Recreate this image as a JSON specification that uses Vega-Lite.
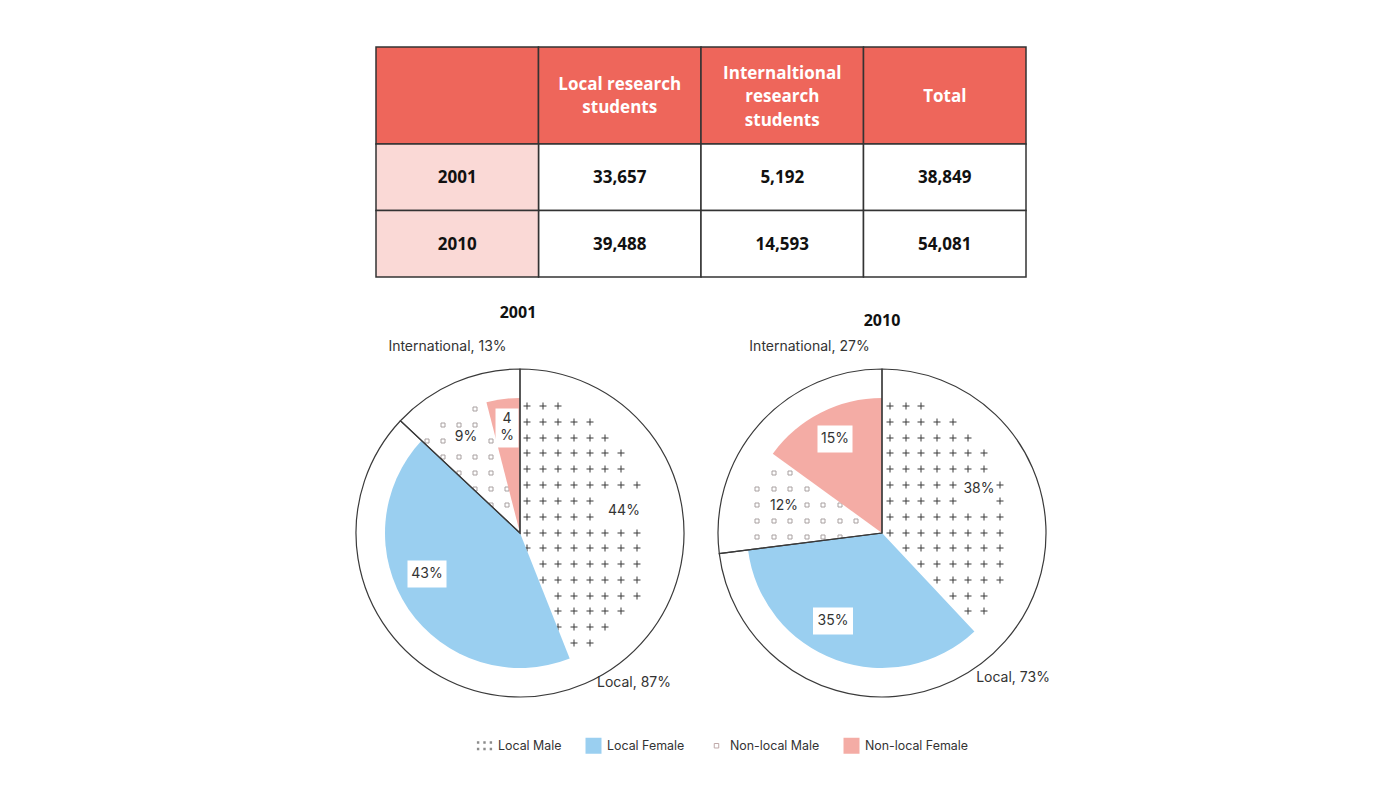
{
  "$schema": "https://vega.github.io/schema/vega-lite/v6.json",
  "background": "white",
  "padding": {"left": 339, "top": 46, "right": 10, "bottom": 10},
  "autosize": {"type": "pad"},
  "config": {"view": {"stroke": null}, "font": "Inter"},
  "datasets": {
    "header": [
      {"col": "year", "label": ""},
      {"col": "local", "label": "Local research\nstudents"},
      {"col": "intl", "label": "Internaltional\nresearch\nstudents"},
      {"col": "total", "label": "Total"}
    ],
    "body": [
      {"year": "2001", "col": "local", "n": 33657},
      {"year": "2001", "col": "intl", "n": 5192},
      {"year": "2001", "col": "total", "n": 38849},
      {"year": "2010", "col": "local", "n": 39488},
      {"year": "2010", "col": "intl", "n": 14593},
      {"year": "2010", "col": "total", "n": 54081}
    ],
    "inner": [
      {"year": "2001", "category": "Local Male", "share": 44, "k": 1, "label": "44%"},
      {"year": "2001", "category": "Local Female", "share": 43, "k": 2, "label": "43%"},
      {"year": "2001", "category": "Non-local Male", "share": 9, "k": 3, "label": "9%"},
      {"year": "2001", "category": "Non-local Female", "share": 4, "k": 4, "label": "4\n%"},
      {"year": "2010", "category": "Local Male", "share": 38, "k": 1, "label": "38%"},
      {"year": "2010", "category": "Local Female", "share": 35, "k": 2, "label": "35%"},
      {"year": "2010", "category": "Non-local Male", "share": 12, "k": 3, "label": "12%"},
      {"year": "2010", "category": "Non-local Female", "share": 15, "k": 4, "label": "15%"}
    ],
    "outer": [
      {"year": "2001", "group": "Local", "share": 87, "k": 1, "label": "Local, 87%"},
      {"year": "2001", "group": "International", "share": 13, "k": 2, "label": "International, 13%"},
      {"year": "2010", "group": "Local", "share": 73, "k": 1, "label": "Local, 73%"},
      {"year": "2010", "group": "International", "share": 27, "k": 2, "label": "International, 27%"}
    ]
  },
  "spacing": 0,
  "center": true,
  "bounds": "flush",
  "resolve": {"scale": {"color": "independent"}, "legend": {"color": "independent"}},
  "vconcat": [
    {
      "width": 650,
      "height": 97,
      "data": {"name": "header"},
      "layer": [
        {
          "mark": {"type": "rect", "fill": "#EE665B", "stroke": "#333333", "strokeWidth": 1.5},
          "encoding": {"x": {"field": "col", "type": "nominal", "scale": {"domain": ["year", "local", "intl", "total"], "paddingInner": 0, "paddingOuter": 0}, "axis": null}}
        },
        {
          "transform": [{"filter": "datum.col == 'local'"}],
          "mark": {"type": "text", "font": "Open Sans", "fontWeight": "bold", "fontSize": 17, "color": "#ffffff", "lineBreak": "\n", "lineHeight": 23.5, "baseline": "middle", "dy": -11},
          "encoding": {
            "x": {"field": "col", "type": "nominal", "scale": {"domain": ["year", "local", "intl", "total"], "paddingInner": 0, "paddingOuter": 0}, "axis": null},
            "text": {"field": "label"}
          }
        },
        {
          "transform": [{"filter": "datum.col == 'intl'"}],
          "mark": {"type": "text", "font": "Open Sans", "fontWeight": "bold", "fontSize": 17, "color": "#ffffff", "lineBreak": "\n", "lineHeight": 23.5, "baseline": "middle", "dy": -22},
          "encoding": {
            "x": {"field": "col", "type": "nominal", "scale": {"domain": ["year", "local", "intl", "total"], "paddingInner": 0, "paddingOuter": 0}, "axis": null},
            "text": {"field": "label"}
          }
        },
        {
          "transform": [{"filter": "datum.col == 'total'"}],
          "mark": {"type": "text", "font": "Open Sans", "fontWeight": "bold", "fontSize": 17, "color": "#ffffff", "baseline": "middle", "dy": 1},
          "encoding": {
            "x": {"field": "col", "type": "nominal", "scale": {"domain": ["year", "local", "intl", "total"], "paddingInner": 0, "paddingOuter": 0}, "axis": null},
            "text": {"field": "label"}
          }
        }
      ]
    },
    {
      "width": 650,
      "height": 219,
      "data": {"name": "body"},
      "layer": [
        {
          "mark": {"type": "rect", "fill": "#ffffff", "stroke": "#333333", "strokeWidth": 1.5},
          "encoding": {
            "x": {"field": "col", "type": "nominal", "scale": {"domain": ["year", "local", "intl", "total"], "paddingInner": 0, "paddingOuter": 0}, "axis": null},
            "y": {"field": "year", "type": "nominal", "scale": {"domain": ["2001", "2010"], "range": [0, 133], "paddingInner": 0, "paddingOuter": 0}, "axis": null}
          }
        },
        {
          "transform": [{"filter": "datum.col == 'total'"}],
          "mark": {"type": "rect", "fill": "#FAD9D6", "stroke": "#333333", "strokeWidth": 1.5},
          "encoding": {
            "x": {"datum": "year", "type": "nominal", "scale": {"domain": ["year", "local", "intl", "total"], "paddingInner": 0, "paddingOuter": 0}, "axis": null},
            "y": {"field": "year", "type": "nominal", "scale": {"domain": ["2001", "2010"], "range": [0, 133], "paddingInner": 0, "paddingOuter": 0}, "axis": null}
          }
        },
        {
          "mark": {"type": "text", "font": "Open Sans", "fontWeight": "bold", "fontSize": 17, "color": "#111111", "baseline": "middle", "dy": 1},
          "encoding": {
            "x": {"field": "col", "type": "nominal", "scale": {"domain": ["year", "local", "intl", "total"], "paddingInner": 0, "paddingOuter": 0}, "axis": null},
            "y": {"field": "year", "type": "nominal", "scale": {"domain": ["2001", "2010"], "range": [0, 133], "paddingInner": 0, "paddingOuter": 0}, "axis": null},
            "text": {"field": "n", "type": "quantitative", "format": ","}
          }
        },
        {
          "transform": [{"filter": "datum.col == 'total'"}],
          "mark": {"type": "text", "font": "Open Sans", "fontWeight": "bold", "fontSize": 17, "color": "#111111", "baseline": "middle", "dy": 1},
          "encoding": {
            "x": {"datum": "year", "type": "nominal", "scale": {"domain": ["year", "local", "intl", "total"], "paddingInner": 0, "paddingOuter": 0}, "axis": null},
            "y": {"field": "year", "type": "nominal", "scale": {"domain": ["2001", "2010"], "range": [0, 133], "paddingInner": 0, "paddingOuter": 0}, "axis": null},
            "text": {"field": "year"}
          }
        }
      ]
    },
    {
      "width": 724,
      "height": 340,
      "layer": [
        {
          "data": {"name": "outer"},
          "transform": [{"stack": "share", "groupby": ["year"], "sort": [{"field": "k", "order": "ascending"}], "as": ["t0", "t1"]}],
          "mark": {"type": "arc", "radius": 164, "fill": "#ffffff", "strokeWidth": 0},
          "encoding": {
            "x": {"field": "year", "type": "nominal", "scale": {"type": "point", "padding": 0.5, "domain": ["2001", "2010"]}, "axis": null},
            "theta": {"field": "t0", "type": "quantitative", "scale": {"domain": [0, 100]}},
            "theta2": {"field": "t1"}
          }
        },
        {
          "data": {"name": "inner"},
          "transform": [{"filter": "datum.year == '2001' && datum.k == 1"}],
          "mark": {"type": "point", "size": 4, "filled": false, "opacity": 1, "stroke": "#3a3a3a", "strokeWidth": 1,
            "shape": "M3.5,-127h7m-3.5,-3.5v7M19.5,-127h7m-3.5,-3.5v7M34.5,-127h7m-3.5,-3.5v7M3.5,-111h7m-3.5,-3.5v7M19.5,-111h7m-3.5,-3.5v7M34.5,-111h7m-3.5,-3.5v7M50.5,-111h7m-3.5,-3.5v7M66.5,-111h7m-3.5,-3.5v7M3.5,-95h7m-3.5,-3.5v7M19.5,-95h7m-3.5,-3.5v7M34.5,-95h7m-3.5,-3.5v7M50.5,-95h7m-3.5,-3.5v7M66.5,-95h7m-3.5,-3.5v7M81.5,-95h7m-3.5,-3.5v7M3.5,-80h7m-3.5,-3.5v7M19.5,-80h7m-3.5,-3.5v7M34.5,-80h7m-3.5,-3.5v7M50.5,-80h7m-3.5,-3.5v7M66.5,-80h7m-3.5,-3.5v7M81.5,-80h7m-3.5,-3.5v7M97.5,-80h7m-3.5,-3.5v7M3.5,-64h7m-3.5,-3.5v7M19.5,-64h7m-3.5,-3.5v7M34.5,-64h7m-3.5,-3.5v7M50.5,-64h7m-3.5,-3.5v7M66.5,-64h7m-3.5,-3.5v7M81.5,-64h7m-3.5,-3.5v7M97.5,-64h7m-3.5,-3.5v7M3.5,-48h7m-3.5,-3.5v7M19.5,-48h7m-3.5,-3.5v7M34.5,-48h7m-3.5,-3.5v7M50.5,-48h7m-3.5,-3.5v7M66.5,-48h7m-3.5,-3.5v7M81.5,-48h7m-3.5,-3.5v7M97.5,-48h7m-3.5,-3.5v7M113.5,-48h7m-3.5,-3.5v7M3.5,-32h7m-3.5,-3.5v7M19.5,-32h7m-3.5,-3.5v7M34.5,-32h7m-3.5,-3.5v7M50.5,-32h7m-3.5,-3.5v7M66.5,-32h7m-3.5,-3.5v7M3.5,-16h7m-3.5,-3.5v7M19.5,-16h7m-3.5,-3.5v7M34.5,-16h7m-3.5,-3.5v7M50.5,-16h7m-3.5,-3.5v7M66.5,-16h7m-3.5,-3.5v7M3.5,0h7m-3.5,-3.5v7M19.5,0h7m-3.5,-3.5v7M34.5,0h7m-3.5,-3.5v7M50.5,0h7m-3.5,-3.5v7M66.5,0h7m-3.5,-3.5v7M81.5,0h7m-3.5,-3.5v7M97.5,0h7m-3.5,-3.5v7M113.5,0h7m-3.5,-3.5v7M3.5,15h7m-3.5,-3.5v7M19.5,15h7m-3.5,-3.5v7M34.5,15h7m-3.5,-3.5v7M50.5,15h7m-3.5,-3.5v7M66.5,15h7m-3.5,-3.5v7M81.5,15h7m-3.5,-3.5v7M97.5,15h7m-3.5,-3.5v7M113.5,15h7m-3.5,-3.5v7M19.5,31h7m-3.5,-3.5v7M34.5,31h7m-3.5,-3.5v7M50.5,31h7m-3.5,-3.5v7M66.5,31h7m-3.5,-3.5v7M81.5,31h7m-3.5,-3.5v7M97.5,31h7m-3.5,-3.5v7M113.5,31h7m-3.5,-3.5v7M19.5,47h7m-3.5,-3.5v7M34.5,47h7m-3.5,-3.5v7M50.5,47h7m-3.5,-3.5v7M66.5,47h7m-3.5,-3.5v7M81.5,47h7m-3.5,-3.5v7M97.5,47h7m-3.5,-3.5v7M113.5,47h7m-3.5,-3.5v7M34.5,63h7m-3.5,-3.5v7M50.5,63h7m-3.5,-3.5v7M66.5,63h7m-3.5,-3.5v7M81.5,63h7m-3.5,-3.5v7M97.5,63h7m-3.5,-3.5v7M113.5,63h7m-3.5,-3.5v7M34.5,78h7m-3.5,-3.5v7M50.5,78h7m-3.5,-3.5v7M66.5,78h7m-3.5,-3.5v7M81.5,78h7m-3.5,-3.5v7M97.5,78h7m-3.5,-3.5v7M34.5,94h7m-3.5,-3.5v7M50.5,94h7m-3.5,-3.5v7M66.5,94h7m-3.5,-3.5v7M81.5,94h7m-3.5,-3.5v7M50.5,110h7m-3.5,-3.5v7M66.5,110h7m-3.5,-3.5v7"},
          "encoding": {"x": {"field": "year", "type": "nominal", "scale": {"type": "point", "padding": 0.5, "domain": ["2001", "2010"]}, "axis": null}}
        },
        {
          "data": {"name": "inner"},
          "transform": [{"filter": "datum.year == '2010' && datum.k == 1"}],
          "mark": {"type": "point", "size": 4, "filled": false, "opacity": 1, "stroke": "#3a3a3a", "strokeWidth": 1,
            "shape": "M4.5,-127h7m-3.5,-3.5v7M20.5,-127h7m-3.5,-3.5v7M35.5,-127h7m-3.5,-3.5v7M4.5,-111h7m-3.5,-3.5v7M20.5,-111h7m-3.5,-3.5v7M35.5,-111h7m-3.5,-3.5v7M51.5,-111h7m-3.5,-3.5v7M67.5,-111h7m-3.5,-3.5v7M4.5,-95h7m-3.5,-3.5v7M20.5,-95h7m-3.5,-3.5v7M35.5,-95h7m-3.5,-3.5v7M51.5,-95h7m-3.5,-3.5v7M67.5,-95h7m-3.5,-3.5v7M82.5,-95h7m-3.5,-3.5v7M4.5,-80h7m-3.5,-3.5v7M20.5,-80h7m-3.5,-3.5v7M35.5,-80h7m-3.5,-3.5v7M51.5,-80h7m-3.5,-3.5v7M67.5,-80h7m-3.5,-3.5v7M82.5,-80h7m-3.5,-3.5v7M98.5,-80h7m-3.5,-3.5v7M4.5,-64h7m-3.5,-3.5v7M20.5,-64h7m-3.5,-3.5v7M35.5,-64h7m-3.5,-3.5v7M51.5,-64h7m-3.5,-3.5v7M67.5,-64h7m-3.5,-3.5v7M82.5,-64h7m-3.5,-3.5v7M98.5,-64h7m-3.5,-3.5v7M4.5,-48h7m-3.5,-3.5v7M20.5,-48h7m-3.5,-3.5v7M35.5,-48h7m-3.5,-3.5v7M51.5,-48h7m-3.5,-3.5v7M67.5,-48h7m-3.5,-3.5v7M114.5,-48h7m-3.5,-3.5v7M4.5,-32h7m-3.5,-3.5v7M20.5,-32h7m-3.5,-3.5v7M35.5,-32h7m-3.5,-3.5v7M51.5,-32h7m-3.5,-3.5v7M67.5,-32h7m-3.5,-3.5v7M114.5,-32h7m-3.5,-3.5v7M4.5,-16h7m-3.5,-3.5v7M20.5,-16h7m-3.5,-3.5v7M35.5,-16h7m-3.5,-3.5v7M51.5,-16h7m-3.5,-3.5v7M67.5,-16h7m-3.5,-3.5v7M82.5,-16h7m-3.5,-3.5v7M98.5,-16h7m-3.5,-3.5v7M114.5,-16h7m-3.5,-3.5v7M4.5,0h7m-3.5,-3.5v7M20.5,0h7m-3.5,-3.5v7M35.5,0h7m-3.5,-3.5v7M51.5,0h7m-3.5,-3.5v7M67.5,0h7m-3.5,-3.5v7M82.5,0h7m-3.5,-3.5v7M98.5,0h7m-3.5,-3.5v7M114.5,0h7m-3.5,-3.5v7M20.5,15h7m-3.5,-3.5v7M35.5,15h7m-3.5,-3.5v7M51.5,15h7m-3.5,-3.5v7M67.5,15h7m-3.5,-3.5v7M82.5,15h7m-3.5,-3.5v7M98.5,15h7m-3.5,-3.5v7M114.5,15h7m-3.5,-3.5v7M35.5,31h7m-3.5,-3.5v7M51.5,31h7m-3.5,-3.5v7M67.5,31h7m-3.5,-3.5v7M82.5,31h7m-3.5,-3.5v7M98.5,31h7m-3.5,-3.5v7M114.5,31h7m-3.5,-3.5v7M51.5,47h7m-3.5,-3.5v7M67.5,47h7m-3.5,-3.5v7M82.5,47h7m-3.5,-3.5v7M98.5,47h7m-3.5,-3.5v7M114.5,47h7m-3.5,-3.5v7M67.5,63h7m-3.5,-3.5v7M82.5,63h7m-3.5,-3.5v7M98.5,63h7m-3.5,-3.5v7M82.5,78h7m-3.5,-3.5v7M98.5,78h7m-3.5,-3.5v7"},
          "encoding": {"x": {"field": "year", "type": "nominal", "scale": {"type": "point", "padding": 0.5, "domain": ["2001", "2010"]}, "axis": null}}
        },
        {
          "data": {"name": "inner"},
          "transform": [{"filter": "datum.year == '2001' && datum.k == 3"}],
          "mark": {"type": "point", "size": 4, "filled": false, "opacity": 1, "stroke": "#a8a0a0", "strokeWidth": 1,
            "shape": "M-47,-126h4v4h-4zM-79,-110h4v4h-4zM-63,-110h4v4h-4zM-47,-110h4v4h-4zM-95,-94h4v4h-4zM-79,-94h4v4h-4zM-31,-94h4v4h-4zM-79,-78h4v4h-4zM-63,-78h4v4h-4zM-47,-78h4v4h-4zM-31,-78h4v4h-4zM-63,-62h4v4h-4zM-47,-62h4v4h-4zM-31,-62h4v4h-4zM-47,-46h4v4h-4zM-31,-46h4v4h-4zM-15,-46h4v4h-4zM-31,-30h4v4h-4zM-15,-30h4v4h-4z"},
          "encoding": {"x": {"field": "year", "type": "nominal", "scale": {"type": "point", "padding": 0.5, "domain": ["2001", "2010"]}, "axis": null}}
        },
        {
          "data": {"name": "inner"},
          "transform": [{"filter": "datum.year == '2010' && datum.k == 3"}],
          "mark": {"type": "point", "size": 4, "filled": false, "opacity": 1, "stroke": "#a8a0a0", "strokeWidth": 1,
            "shape": "M-110,-62h4v4h-4zM-94,-62h4v4h-4zM-127,-46h4v4h-4zM-110,-46h4v4h-4zM-94,-46h4v4h-4zM-77,-46h4v4h-4zM-127,-30h4v4h-4zM-77,-30h4v4h-4zM-61,-30h4v4h-4zM-44,-30h4v4h-4zM-127,-14h4v4h-4zM-110,-14h4v4h-4zM-94,-14h4v4h-4zM-77,-14h4v4h-4zM-61,-14h4v4h-4zM-44,-14h4v4h-4zM-28,-14h4v4h-4zM-127,2h4v4h-4zM-110,2h4v4h-4zM-94,2h4v4h-4zM-77,2h4v4h-4zM-61,2h4v4h-4zM-44,2h4v4h-4z"},
          "encoding": {"x": {"field": "year", "type": "nominal", "scale": {"type": "point", "padding": 0.5, "domain": ["2001", "2010"]}, "axis": null}}
        },
        {
          "data": {"name": "inner"},
          "transform": [{"stack": "share", "groupby": ["year"], "sort": [{"field": "k", "order": "ascending"}], "as": ["t0", "t1"]}],
          "mark": {"type": "arc", "radius": 135, "strokeWidth": 0},
          "encoding": {
            "x": {"field": "year", "type": "nominal", "scale": {"type": "point", "padding": 0.5, "domain": ["2001", "2010"]}, "axis": null},
            "theta": {"field": "t0", "type": "quantitative", "scale": {"domain": [0, 100]}},
            "theta2": {"field": "t1"},
            "fillOpacity": {"condition": {"test": "datum.category == 'Local Male' || datum.category == 'Non-local Male'", "value": 0}, "value": 1},
            "color": {
              "field": "category",
              "type": "nominal",
              "scale": {"domain": ["Local Male", "Local Female", "Non-local Male", "Non-local Female"], "range": ["#8c8c8c", "#9ACFF0", "#ffffff", "#F4ACA5"]},
              "legend": {
                "orient": "none",
                "legendX": 137,
                "legendY": 374,
                "direction": "horizontal",
                "title": null,
                "symbolType": "square",
                "symbolSize": 256,
                "labelFont": "Inter",
                "labelFontSize": 12.4,
                "labelColor": "#333333",
                "labelOffset": 5,
                "columnPadding": 21,
                "padding": 0,
                "encode": {
                  "symbols": {
                    "update": {
                      "shape": [{"test": "datum.value === 'Local Male'", "value": "M-1,-1M1,1M-0.95,-0.55h0.3v0.3h-0.3zM-0.15,-0.55h0.3v0.3h-0.3zM0.65,-0.55h0.3v0.3h-0.3zM-0.95,0.25h0.3v0.3h-0.3zM-0.15,0.25h0.3v0.3h-0.3zM0.65,0.25h0.3v0.3h-0.3z"}, {"test": "datum.value === 'Non-local Male'", "value": "M-1,-1M1,1M-0.28,-0.28h0.56v0.56h-0.56z"}, {"value": "square"}],
                      "stroke": [{"test": "datum.value === 'Non-local Male'", "value": "#bfa9a9"}, {"value": "transparent"}],
                      "strokeWidth": {"value": 1}
                    }
                  }
                }
              }
            }
          }
        },
        {
          "data": {"name": "outer"},
          "transform": [{"stack": "share", "groupby": ["year"], "sort": [{"field": "k", "order": "ascending"}], "as": ["t0", "t1"]}],
          "mark": {"type": "arc", "radius": 164, "fill": "transparent", "stroke": "#3a3a3a", "strokeWidth": 1.2},
          "encoding": {
            "x": {"field": "year", "type": "nominal", "scale": {"type": "point", "padding": 0.5, "domain": ["2001", "2010"]}, "axis": null},
            "theta": {"field": "t0", "type": "quantitative", "scale": {"domain": [0, 100]}},
            "theta2": {"field": "t1"}
          }
        },
        {
          "data": {"name": "inner"},
          "transform": [{"filter": "datum.year == '2001' && datum.k == 2"}],
          "mark": {"type": "point", "size": 4, "filled": true, "fill": "#ffffff", "opacity": 1, "strokeWidth": 0, "xOffset": -93, "yOffset": 41, "shape": "M-19.5,-13.5H19.5V13.5H-19.5Z"},
          "encoding": {"x": {"field": "year", "type": "nominal", "scale": {"type": "point", "padding": 0.5, "domain": ["2001", "2010"]}, "axis": null}}
        },
        {
          "data": {"name": "inner"},
          "transform": [{"filter": "datum.year == '2001' && datum.k == 4"}],
          "mark": {"type": "point", "size": 4, "filled": true, "fill": "#ffffff", "opacity": 1, "strokeWidth": 0, "xOffset": -13, "yOffset": -105, "shape": "M-11.5,-19.5H11.5V19.5H-11.5Z"},
          "encoding": {"x": {"field": "year", "type": "nominal", "scale": {"type": "point", "padding": 0.5, "domain": ["2001", "2010"]}, "axis": null}}
        },
        {
          "data": {"name": "inner"},
          "transform": [{"filter": "datum.year == '2010' && datum.k == 2"}],
          "mark": {"type": "point", "size": 4, "filled": true, "fill": "#ffffff", "opacity": 1, "strokeWidth": 0, "xOffset": -49, "yOffset": 88, "shape": "M-20,-13.5H20V13.5H-20Z"},
          "encoding": {"x": {"field": "year", "type": "nominal", "scale": {"type": "point", "padding": 0.5, "domain": ["2001", "2010"]}, "axis": null}}
        },
        {
          "data": {"name": "inner"},
          "transform": [{"filter": "datum.year == '2010' && datum.k == 4"}],
          "mark": {"type": "point", "size": 4, "filled": true, "fill": "#ffffff", "opacity": 1, "strokeWidth": 0, "xOffset": -47, "yOffset": -94, "shape": "M-17.5,-13.5H17.5V13.5H-17.5Z"},
          "encoding": {"x": {"field": "year", "type": "nominal", "scale": {"type": "point", "padding": 0.5, "domain": ["2001", "2010"]}, "axis": null}}
        },
        {
          "data": {"name": "inner"},
          "transform": [{"filter": "datum.year == '2001' && datum.k == 1"}],
          "mark": {"type": "text", "font": "Inter", "fontSize": 14, "color": "#333333", "baseline": "middle", "dx": 104, "dy": -22},
          "encoding": {"x": {"field": "year", "type": "nominal", "scale": {"type": "point", "padding": 0.5, "domain": ["2001", "2010"]}, "axis": null}, "text": {"field": "label"}}
        },
        {
          "data": {"name": "inner"},
          "transform": [{"filter": "datum.year == '2001' && datum.k == 2"}],
          "mark": {"type": "text", "font": "Inter", "fontSize": 14, "color": "#333333", "baseline": "middle", "dx": -93, "dy": 41},
          "encoding": {"x": {"field": "year", "type": "nominal", "scale": {"type": "point", "padding": 0.5, "domain": ["2001", "2010"]}, "axis": null}, "text": {"field": "label"}}
        },
        {
          "data": {"name": "inner"},
          "transform": [{"filter": "datum.year == '2001' && datum.k == 3"}],
          "mark": {"type": "text", "font": "Inter", "fontSize": 14, "color": "#333333", "baseline": "middle", "dx": -54, "dy": -96},
          "encoding": {"x": {"field": "year", "type": "nominal", "scale": {"type": "point", "padding": 0.5, "domain": ["2001", "2010"]}, "axis": null}, "text": {"field": "label"}}
        },
        {
          "data": {"name": "inner"},
          "transform": [{"filter": "datum.year == '2001' && datum.k == 4"}],
          "mark": {"type": "text", "font": "Inter", "fontSize": 14, "color": "#333333", "baseline": "middle", "lineBreak": "\n", "lineHeight": 17, "dx": -13, "dy": -114},
          "encoding": {"x": {"field": "year", "type": "nominal", "scale": {"type": "point", "padding": 0.5, "domain": ["2001", "2010"]}, "axis": null}, "text": {"field": "label"}}
        },
        {
          "data": {"name": "inner"},
          "transform": [{"filter": "datum.year == '2010' && datum.k == 1"}],
          "mark": {"type": "text", "font": "Inter", "fontSize": 14, "color": "#333333", "baseline": "middle", "dx": 97, "dy": -44},
          "encoding": {"x": {"field": "year", "type": "nominal", "scale": {"type": "point", "padding": 0.5, "domain": ["2001", "2010"]}, "axis": null}, "text": {"field": "label"}}
        },
        {
          "data": {"name": "inner"},
          "transform": [{"filter": "datum.year == '2010' && datum.k == 2"}],
          "mark": {"type": "text", "font": "Inter", "fontSize": 14, "color": "#333333", "baseline": "middle", "dx": -49, "dy": 88},
          "encoding": {"x": {"field": "year", "type": "nominal", "scale": {"type": "point", "padding": 0.5, "domain": ["2001", "2010"]}, "axis": null}, "text": {"field": "label"}}
        },
        {
          "data": {"name": "inner"},
          "transform": [{"filter": "datum.year == '2010' && datum.k == 3"}],
          "mark": {"type": "text", "font": "Inter", "fontSize": 14, "color": "#333333", "baseline": "middle", "dx": -98, "dy": -27},
          "encoding": {"x": {"field": "year", "type": "nominal", "scale": {"type": "point", "padding": 0.5, "domain": ["2001", "2010"]}, "axis": null}, "text": {"field": "label"}}
        },
        {
          "data": {"name": "inner"},
          "transform": [{"filter": "datum.year == '2010' && datum.k == 4"}],
          "mark": {"type": "text", "font": "Inter", "fontSize": 14, "color": "#333333", "baseline": "middle", "dx": -47, "dy": -94},
          "encoding": {"x": {"field": "year", "type": "nominal", "scale": {"type": "point", "padding": 0.5, "domain": ["2001", "2010"]}, "axis": null}, "text": {"field": "label"}}
        },
        {
          "data": {"name": "outer"},
          "transform": [{"filter": "datum.k == 2"}],
          "mark": {"type": "text", "font": "Inter", "fontSize": 14, "color": "#333333", "baseline": "middle", "dx": -72.5, "dy": -186},
          "encoding": {"x": {"field": "year", "type": "nominal", "scale": {"type": "point", "padding": 0.5, "domain": ["2001", "2010"]}, "axis": null}, "text": {"field": "label"}}
        },
        {
          "data": {"name": "outer"},
          "transform": [{"filter": "datum.year == '2001' && datum.k == 1"}],
          "mark": {"type": "text", "font": "Inter", "fontSize": 14, "color": "#333333", "baseline": "middle", "dx": 114, "dy": 150},
          "encoding": {"x": {"field": "year", "type": "nominal", "scale": {"type": "point", "padding": 0.5, "domain": ["2001", "2010"]}, "axis": null}, "text": {"field": "label"}}
        },
        {
          "data": {"name": "outer"},
          "transform": [{"filter": "datum.year == '2010' && datum.k == 1"}],
          "mark": {"type": "text", "font": "Inter", "fontSize": 14, "color": "#333333", "baseline": "middle", "dx": 131, "dy": 145},
          "encoding": {"x": {"field": "year", "type": "nominal", "scale": {"type": "point", "padding": 0.5, "domain": ["2001", "2010"]}, "axis": null}, "text": {"field": "label"}}
        },
        {
          "data": {"name": "outer"},
          "transform": [{"filter": "datum.year == '2001' && datum.k == 1"}],
          "mark": {"type": "text", "font": "Open Sans", "fontWeight": "bold", "fontSize": 16, "color": "#111111", "baseline": "middle", "dx": -2, "dy": -220},
          "encoding": {"x": {"field": "year", "type": "nominal", "scale": {"type": "point", "padding": 0.5, "domain": ["2001", "2010"]}, "axis": null}, "text": {"field": "year"}}
        },
        {
          "data": {"name": "outer"},
          "transform": [{"filter": "datum.year == '2010' && datum.k == 1"}],
          "mark": {"type": "text", "font": "Open Sans", "fontWeight": "bold", "fontSize": 16, "color": "#111111", "baseline": "middle", "dx": 0, "dy": -212},
          "encoding": {"x": {"field": "year", "type": "nominal", "scale": {"type": "point", "padding": 0.5, "domain": ["2001", "2010"]}, "axis": null}, "text": {"field": "year"}}
        }
      ]
    }
  ]
}
